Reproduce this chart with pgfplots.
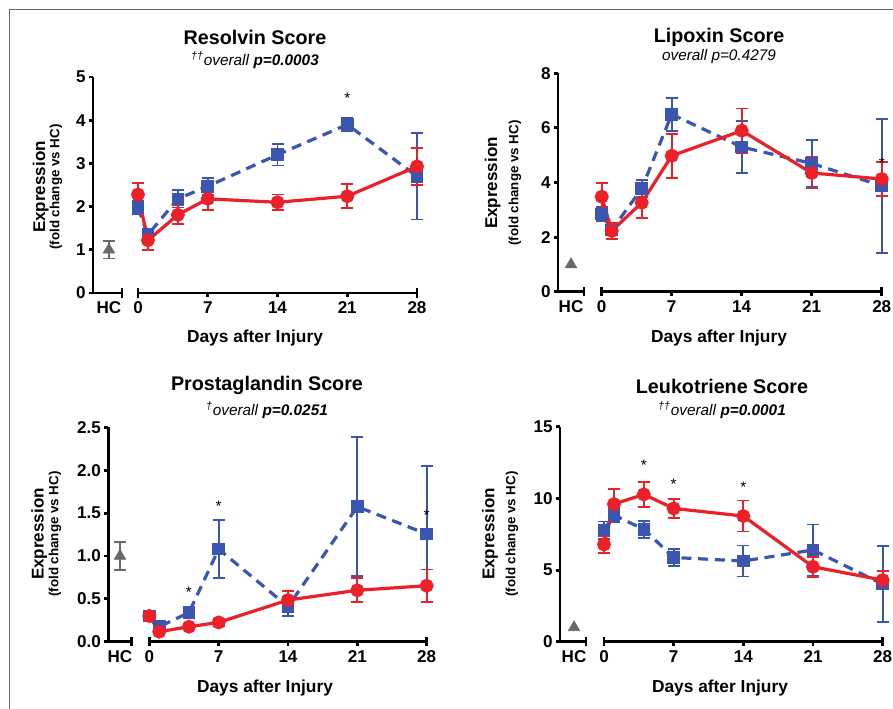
\documentclass[border=0pt]{standalone}
\usepackage{pgfplots}
\pgfplotsset{compat=1.18}
\usepackage{fontspec}
\setmainfont{Liberation Sans}
\definecolor{myblue}{RGB}{58,86,176}
\definecolor{myred}{RGB}{236,32,40}
\definecolor{mygray}{RGB}{105,105,105}
\pgfplotsset{
  common/.style={
    scale only axis, clip=false,
    /pgf/number format/assume math mode=true,
    ticklabel style={font=\fontsize{12.8}{14}\selectfont\bfseries},
    yticklabel style={xshift=1pt},
    axis line style={line width=2.2pt, -},
    tick style={line width=2.2pt, black},
    tick align=outside, major tick length=3pt,
  },
  hcax/.style={common,
    axis x line*=bottom, axis y line*=left,
    xmin=0, xmax=1,
    xtick={#1}, xticklabels={HC},
    xtick style={draw=none},
    extra x ticks={1}, extra x tick labels={},
    extra x tick style={xtick style={draw=black}, tick align=center, major tick length=7pt},
  },
  mainax/.style={common,
    axis x line*=bottom, axis y line=none,
    xmin=0, xmax=28, xtick={0,7,14,21,28},
    extra x ticks={0,28}, extra x tick labels={},
    extra x tick style={tick align=center, major tick length=7pt},
  },
  blueline/.style={myblue, line width=2.4pt, dash pattern=on 7.5pt off 5pt,
    mark=square*, mark size=3.5pt, mark options={solid, fill=myblue, draw=myblue},
    error bars/.cd, y dir=both, y explicit,
    error bar style={solid, line width=1.4pt, myblue},
    error mark options={solid, rotate=90, line width=1.4pt, mark size=4.5pt, myblue}},
  redline/.style={myred, line width=2.4pt, solid,
    mark=*, mark size=4pt, mark options={solid, fill=myred, draw=myred},
    error bars/.cd, y dir=both, y explicit,
    error bar style={solid, line width=1.4pt, myred},
    error mark options={solid, rotate=90, line width=1.4pt, mark size=4.5pt, myred}},
  hconly/.style={mygray, only marks, mark=triangle*, mark size=5pt,
    mark options={fill=mygray, draw=mygray}},
  hcpt/.style={hconly,
    error bars/.cd, y dir=both, y explicit,
    error bar style={solid, line width=1.4pt, mygray},
    error mark options={solid, rotate=90, line width=1.4pt, mark size=4.5pt, mygray}},
}
\newcommand{\sig}{\fontsize{11.5}{12}\selectfont *}
\begin{document}
\begin{tikzpicture}
\useasboundingbox (0,0) rectangle (669.75pt,-531.75pt);
\draw[line width=0.9pt, black!60] (7pt,-7pt) rectangle (680pt,-545pt);

% ---------------- Panel 1: Resolvin ----------------
\begin{axis}[hcax=0.55, at={(69.75pt,-219.75pt)}, anchor=origin,
  width=21.75pt, height=162pt, ymin=0, ymax=5, ytick={0,1,2,3,4,5}]
\addplot[hcpt] coordinates {(0.55,1.0) +- (0,0.2)};
\end{axis}
\begin{axis}[mainax, at={(103.5pt,-219.75pt)}, anchor=origin,
  width=209.25pt, height=162pt, ymin=0, ymax=5]
\addplot[blueline] coordinates {
 (0,1.97) +- (0,0.15) (1,1.35) +- (0,0.1) (4,2.18) +- (0,0.2) (7,2.47) +- (0,0.2)
 (14,3.2) +- (0,0.25) (21,3.9) +- (0,0.15) (28,2.7) +- (0,1.0)};
\addplot[redline] coordinates {
 (0,2.28) +- (0,0.27) (1,1.22) +- (0,0.22) (4,1.81) +- (0,0.22) (7,2.18) +- (0,0.25)
 (14,2.1) +- (0,0.18) (21,2.24) +- (0,0.28) (28,2.93) +- (0,0.43)};
\node at (axis cs:21,4.5) {\sig};
\node at (axis cs:28,2.95) {\sig};
\end{axis}
\node[font=\fontsize{14.8}{17}\selectfont\bfseries] at (191.25pt,-27.75pt) {Resolvin Score};
\node[font=\fontsize{11.5}{13}\selectfont] at (191.25pt,-45pt) {\textsuperscript{\textit{††}}\textit{overall} \textbf{\textit{p=0.0003}}};
\node[font=\fontsize{13}{15}\selectfont\bfseries] at (191.25pt,-253.5pt) {Days after Injury};
\node[rotate=90, font=\fontsize{12.75}{15}\selectfont\bfseries] at (30.5pt,-140.25pt) {Expression};
\node[rotate=90, font=\fontsize{10}{12}\selectfont\bfseries] at (42pt,-140.25pt) {(fold change vs HC)};

% ---------------- Panel 2: Lipoxin ----------------
\begin{axis}[hcax=0.5, at={(418.5pt,-218.8pt)}, anchor=origin,
  width=19.5pt, height=163.8pt, ymin=0, ymax=8, ytick={0,2,4,6,8}]
\addplot[hconly] coordinates {(0.5,1.0)};
\end{axis}
\begin{axis}[mainax, at={(451.3pt,-218.8pt)}, anchor=origin,
  width=210pt, height=163.8pt, ymin=0, ymax=8]
\addplot[blueline] coordinates {
 (0,2.85) +- (0,0.25) (1,2.26) +- (0,0.2) (4,3.78) +- (0,0.3) (7,6.5) +- (0,0.6)
 (14,5.3) +- (0,0.95) (21,4.7) +- (0,0.85) (28,3.88) +- (0,2.45)};
\addplot[redline] coordinates {
 (0,3.48) +- (0,0.5) (1,2.23) +- (0,0.3) (4,3.26) +- (0,0.55) (7,4.98) +- (0,0.81)
 (14,5.9) +- (0,0.81) (21,4.35) +- (0,0.57) (28,4.13) +- (0,0.63)};
\node at (axis cs:28,4.7) {\sig};
\end{axis}
\node[font=\fontsize{14.8}{17}\selectfont\bfseries] at (539.25pt,-27.75pt) {Lipoxin Score};
\node[font=\fontsize{11.5}{13}\selectfont] at (539.25pt,-42.75pt) {\textit{overall p=0.4279}};
\node[font=\fontsize{13}{15}\selectfont\bfseries] at (539.25pt,-253.5pt) {Days after Injury};
\node[rotate=90, font=\fontsize{12.75}{15}\selectfont\bfseries] at (369.5pt,-137.25pt) {Expression};
\node[rotate=90, font=\fontsize{10}{12}\selectfont\bfseries] at (386.25pt,-137.25pt) {(fold change vs HC)};

% ---------------- Panel 3: Prostaglandin ----------------
\begin{axis}[hcax=0.5, at={(81.2pt,-481.3pt)}, anchor=origin,
  width=17.6pt, height=160.8pt, ymin=0, ymax=2.5, ytick={0,0.5,1,1.5,2,2.5},
  yticklabel style={/pgf/number format/.cd, fixed, fixed zerofill, precision=1}]
\addplot[hcpt] coordinates {(0.5,1.0) +- (0,0.165)};
\end{axis}
\begin{axis}[mainax, at={(112pt,-481.3pt)}, anchor=origin,
  width=208pt, height=160.8pt, ymin=0, ymax=2.5]
\addplot[blueline] coordinates {
 (0,0.30) +- (0,0.04) (1,0.175) +- (0,0.03) (4,0.34) +- (0,0.04) (7,1.08) +- (0,0.34)
 (14,0.41) +- (0,0.11) (21,1.575) +- (0,0.81) (28,1.256) +- (0,0.79)};
\addplot[redline] coordinates {
 (0,0.30) +- (0,0.05) (1,0.117) +- (0,0.02) (4,0.175) +- (0,0.01) (7,0.225) +- (0,0.04)
 (14,0.486) +- (0,0.11) (21,0.60) +- (0,0.14) (28,0.653) +- (0,0.19)};
\node at (axis cs:4,0.58) {\sig};
\node at (axis cs:7,1.58) {\sig};
\node at (axis cs:28,1.48) {\sig};
\end{axis}
\node[font=\fontsize{14.8}{17}\selectfont\bfseries] at (200.25pt,-288.75pt) {Prostaglandin Score};
\node[font=\fontsize{11.5}{13}\selectfont] at (200.25pt,-307.5pt) {\textsuperscript{\textit{†}}\textit{overall} \textbf{\textit{p=0.0251}}};
\node[font=\fontsize{13}{15}\selectfont\bfseries] at (198.75pt,-516pt) {Days after Injury};
\node[rotate=90, font=\fontsize{12.75}{15}\selectfont\bfseries] at (29.5pt,-400.5pt) {Expression};
\node[rotate=90, font=\fontsize{10}{12}\selectfont\bfseries] at (41.25pt,-400.5pt) {(fold change vs HC)};

% ---------------- Panel 4: Leukotriene ----------------
\begin{axis}[hcax=0.54, at={(420pt,-481.3pt)}, anchor=origin,
  width=19.5pt, height=161.25pt, ymin=0, ymax=15, ytick={0,5,10,15}]
\addplot[hconly] coordinates {(0.54,1.0)};
\end{axis}
\begin{axis}[mainax, at={(453pt,-481.3pt)}, anchor=origin,
  width=209pt, height=161.25pt, ymin=0, ymax=15]
\addplot[blueline] coordinates {
 (0,7.79) +- (0,0.6) (1,8.84) +- (0,0.5) (4,7.84) +- (0,0.6) (7,5.88) +- (0,0.62)
 (14,5.63) +- (0,1.08) (21,6.40) +- (0,1.78) (28,4.02) +- (0,2.67)};
\addplot[redline] coordinates {
 (0,6.79) +- (0,0.57) (1,9.60) +- (0,1.05) (4,10.28) +- (0,0.87) (7,9.30) +- (0,0.67)
 (14,8.77) +- (0,1.08) (21,5.23) +- (0,0.7) (28,4.30) +- (0,0.62)};
\node at (axis cs:4,12.3) {\sig};
\node at (axis cs:7,11.0) {\sig};
\node at (axis cs:14,10.8) {\sig};
\end{axis}
\node[font=\fontsize{14.8}{17}\selectfont\bfseries] at (541.5pt,-289.5pt) {Leukotriene Score};
\node[font=\fontsize{11.5}{13}\selectfont] at (541.5pt,-307.5pt) {\textsuperscript{\textit{††}}\textit{overall} \textbf{\textit{p=0.0001}}};
\node[font=\fontsize{13}{15}\selectfont\bfseries] at (540pt,-516pt) {Days after Injury};
\node[rotate=90, font=\fontsize{12.75}{15}\selectfont\bfseries] at (367.5pt,-400.5pt) {Expression};
\node[rotate=90, font=\fontsize{10}{12}\selectfont\bfseries] at (384pt,-400.5pt) {(fold change vs HC)};
\end{tikzpicture}
\end{document}
